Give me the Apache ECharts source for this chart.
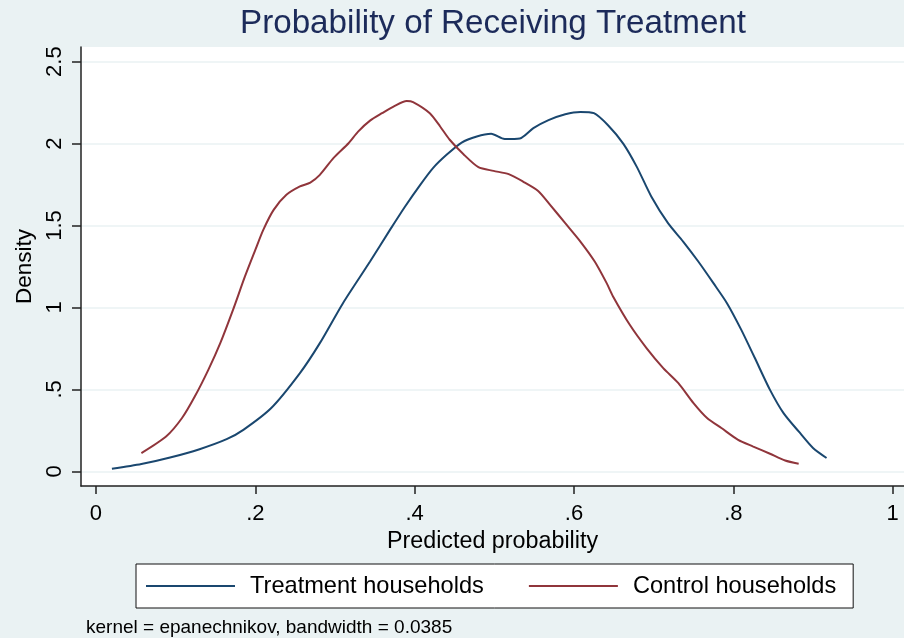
<!DOCTYPE html>
<html>
<head>
<meta charset="utf-8">
<title>Probability of Receiving Treatment</title>
<script src="https://cdn.jsdelivr.net/npm/echarts@6/dist/echarts.min.js"></script>
<style>
  html, body { margin: 0; padding: 0; background: #eaf2f3; }
  #main { width: 904px; height: 638px; }
</style>
</head>
<body>
<div id="main"></div>
<script>
// kernel density estimates
const treatX = [0.020, 0.057, 0.093, 0.130, 0.164, 0.185, 0.220, 0.256, 0.281, 0.310,
  0.344, 0.369, 0.388, 0.407, 0.423, 0.440, 0.459, 0.478, 0.496, 0.513, 0.532, 0.549,
  0.568, 0.589, 0.608, 0.625, 0.643, 0.662, 0.679, 0.697, 0.718, 0.737, 0.756, 0.775,
  0.792, 0.810, 0.827, 0.846, 0.863, 0.882, 0.900, 0.917];
const treatY = [0.015, 0.044, 0.084, 0.135, 0.196, 0.253, 0.386, 0.599, 0.782, 1.026,
  1.280, 1.473, 1.616, 1.748, 1.850, 1.931, 2.006, 2.043, 2.059, 2.027, 2.031, 2.094,
  2.143, 2.179, 2.193, 2.185, 2.110, 1.998, 1.856, 1.677, 1.514, 1.402, 1.280, 1.148,
  1.026, 0.863, 0.691, 0.497, 0.355, 0.243, 0.142, 0.081];

const controlX = [0.057, 0.088, 0.108, 0.124, 0.141, 0.156, 0.172, 0.187, 0.200, 0.210,
  0.223, 0.239, 0.256, 0.269, 0.281, 0.298, 0.317, 0.329, 0.344, 0.359, 0.375, 0.390,
  0.398, 0.419, 0.432, 0.444, 0.461, 0.480, 0.499, 0.518, 0.536, 0.555, 0.570, 0.589,
  0.608, 0.626, 0.641, 0.649, 0.670, 0.691, 0.712, 0.731, 0.750, 0.767, 0.785, 0.806,
  0.825, 0.846, 0.865, 0.882];
const controlY = [0.111, 0.212, 0.325, 0.456, 0.619, 0.782, 0.985, 1.189, 1.351, 1.473,
  1.595, 1.687, 1.738, 1.762, 1.809, 1.911, 2.002, 2.073, 2.140, 2.185, 2.230, 2.259,
  2.253, 2.185, 2.104, 2.023, 1.936, 1.856, 1.833, 1.813, 1.768, 1.711, 1.626, 1.514,
  1.402, 1.280, 1.148, 1.067, 0.894, 0.752, 0.630, 0.538, 0.416, 0.325, 0.264, 0.192,
  0.151, 0.107, 0.066, 0.046];

const xTicks = [0, 0.2, 0.4, 0.6, 0.8, 1];
const xTickLabels = ['0', '.2', '.4', '.6', '.8', '1'];
const yTicks = [0, 0.5, 1, 1.5, 2, 2.5];
const yTickLabels = ['0', '.5', '1', '1.5', '2', '2.5'];

const seriesNames = ['Treatment households', 'Control households'];

const zip = (xs, ys) => xs.map((x, i) => [x, ys[i]]);
const tickLabel = (ticks, labels) => (v) => {
  const i = ticks.findIndex(t => Math.abs(t - v) < 1e-9);
  return i >= 0 ? labels[i] : '';
};

const font = 'Liberation Sans, Arial, Helvetica, sans-serif';
const myChart = echarts.init(document.getElementById('main'), null, { renderer: 'canvas' });

const option = {
  backgroundColor: '#eaf2f3',
  animation: false,
  textStyle: { fontFamily: font, color: '#000' },
  title: [
    {
      text: 'Probability of Receiving Treatment',
      left: 240,
      top: 7,
      padding: 0,
      textStyle: { fontFamily: font, fontSize: 33.2, fontWeight: 'normal', color: '#1c2b5a' }
    },
    {
      text: 'kernel = epanechnikov, bandwidth = 0.0385',
      left: 86,
      top: 618,
      padding: 0,
      textStyle: { fontFamily: font, fontSize: 19, fontWeight: 'normal', color: '#000' }
    }
  ],
  grid: {
    left: 81,
    right: 0,
    top: 47,
    bottom: 152,
    containLabel: false,
    outerBoundsMode: 'none',
    show: true,
    backgroundColor: '#ffffff',
    borderWidth: 0
  },
  legend: {
    left: 136,
    top: 564,
    orient: 'horizontal',
    data: seriesNames,
    icon: 'rect',
    itemWidth: 89,
    itemHeight: 2,
    itemGap: 45,
    padding: [10, 17, 10, 10],
    backgroundColor: '#ffffff',
    borderColor: '#111',
    borderWidth: 1,
    borderRadius: 0,
    selectedMode: false,
    textStyle: {
      fontFamily: font,
      fontSize: 23.6,
      lineHeight: 23,
      color: '#000',
      padding: [0, 0, 0, 10]
    }
  },
  xAxis: {
    type: 'value',
    min: -0.0188,
    max: 1.0142,
    name: 'Predicted probability',
    nameLocation: 'middle',
    nameGap: 38,
    nameTextStyle: { fontFamily: font, fontSize: 23.3, color: '#000' },
    axisLine: { show: true, onZero: false, lineStyle: { color: '#222', width: 1.5 } },
    axisTick: { show: true, length: 8, customValues: xTicks, lineStyle: { color: '#222', width: 1.5 } },
    axisLabel: {
      customValues: xTicks,
      formatter: tickLabel(xTicks, xTickLabels),
      fontFamily: font,
      fontSize: 22,
      color: '#000',
      margin: 17,
      showMinLabel: true,
      showMaxLabel: true,
      hideOverlap: false
    },
    splitLine: { show: false }
  },
  yAxis: {
    type: 'value',
    min: -0.0897,
    max: 2.589,
    name: 'Density',
    nameLocation: 'middle',
    nameGap: 41,
    nameTextStyle: { fontFamily: font, fontSize: 22.5, color: '#000' },
    axisLine: { show: true, onZero: false, lineStyle: { color: '#222', width: 1.5 } },
    axisTick: { show: true, length: 9, customValues: yTicks, lineStyle: { color: '#222', width: 1.5 } },
    axisLabel: {
      customValues: yTicks,
      formatter: tickLabel(yTicks, yTickLabels),
      rotate: 90,
      fontFamily: font,
      fontSize: 22,
      color: '#000',
      margin: 15,
      showMinLabel: true,
      showMaxLabel: true,
      hideOverlap: false
    },
    splitLine: { show: true, lineStyle: { color: '#eaf2f3', width: 1.5 } }
  },
  series: [
    {
      name: seriesNames[0],
      type: 'line',
      data: zip(treatX, treatY),
      showSymbol: false,
      symbol: 'none',
      smooth: 0.25,
      color: '#1a476f',
      lineStyle: { color: '#1a476f', width: 2 },
      itemStyle: { color: '#1a476f' }
    },
    {
      name: seriesNames[1],
      type: 'line',
      data: zip(controlX, controlY),
      showSymbol: false,
      symbol: 'none',
      smooth: 0.25,
      color: '#90353b',
      lineStyle: { color: '#90353b', width: 2 },
      itemStyle: { color: '#90353b' }
    }
  ]
};

myChart.setOption(option);
</script>
</body>
</html>
